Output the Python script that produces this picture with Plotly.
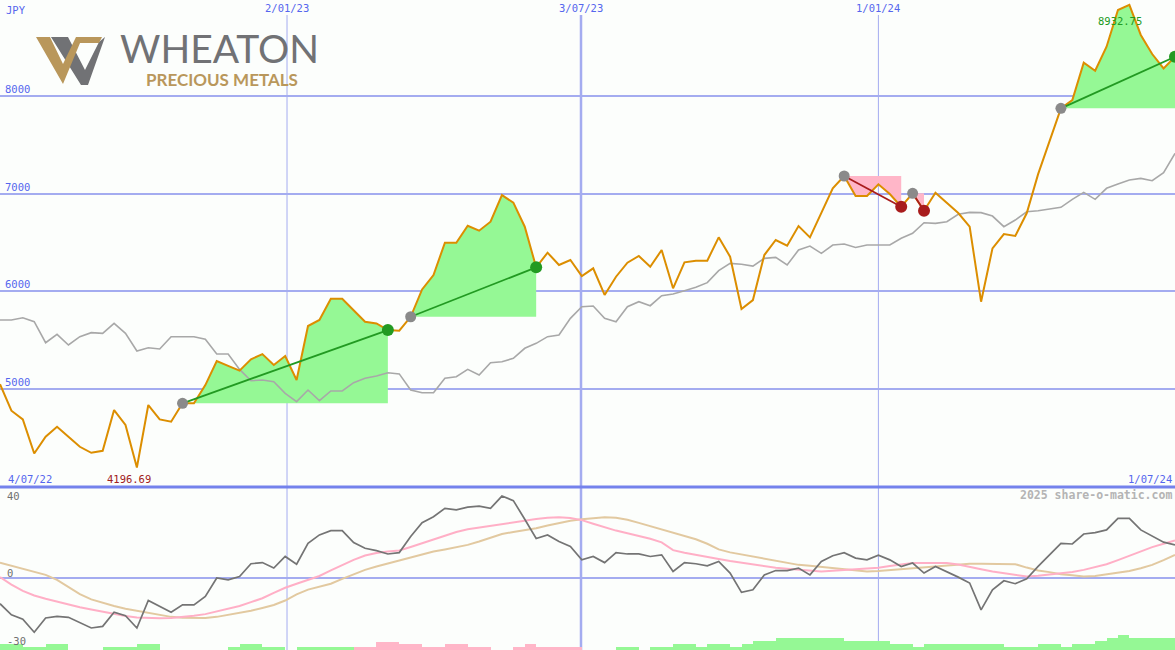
import plotly.graph_objects as go

# ---------------- data ----------------
WEEK = list(range(104))

PRICE = [5050, 4778, 4689, 4340, 4512, 4614, 4512, 4409, 4347, 4368,
         4785, 4632, 4196.69, 4836, 4689, 4665, 4854, 4854, 5040, 5287,
         5237, 5188, 5304, 5358, 5246, 5338, 5092, 5645, 5707, 5925,
         5925, 5802, 5689, 5672, 5604, 5597, 5740, 6020, 6167, 6498,
         6498, 6672, 6621, 6713, 6986, 6908, 6662, 6246, 6396, 6270,
         6321, 6157, 6236, 5963, 6150, 6293, 6362, 6252, 6423, 6031,
         6297, 6314, 6314, 6553, 6355, 5819, 5911, 6372, 6526, 6468,
         6669, 6553, 6805, 7055, 7181, 6976, 6976, 7096, 6997, 6867,
         7004, 6826, 7010, 6901, 6802, 6662, 5894, 6440, 6587, 6567,
         6799, 7200, 7530, 7874, 7959, 8341, 8259, 8505, 8880, 8932.75,
         8625, 8430, 8283, 8402]

COMPARE = [5707, 5707, 5730, 5689, 5474, 5560, 5451, 5536, 5577, 5570,
           5672, 5570, 5389, 5423, 5410, 5536, 5536, 5536, 5509, 5358,
           5358, 5201, 5085, 5092, 5075, 4956, 4871, 4990, 4881, 4980,
           4980, 5065, 5110, 5133, 5167, 5155, 4990, 4962, 4962, 5110,
           5126, 5201, 5143, 5270, 5280, 5314, 5417, 5468, 5536, 5553,
           5724, 5843, 5850, 5724, 5689, 5843, 5894, 5853, 5955, 5973,
           6007, 6041, 6089, 6212, 6287, 6277, 6259, 6338, 6348, 6270,
           6423, 6464, 6389, 6474, 6485, 6450, 6474, 6474, 6474, 6543,
           6594, 6703, 6696, 6713, 6789, 6809, 6806, 6771, 6662, 6730,
           6815, 6826, 6840, 6860, 6942, 7014, 6942, 7055, 7099, 7140,
           7157, 7133, 7215, 7413]

OSC = [-11.4, -16.3, -18.2, -24, -17.7, -17, -17.4, -19.9, -22.1, -21.4,
       -15.2, -16.7, -22.1, -10, -12.6, -15.2, -11.9, -11.9, -8.2, -0.1,
       -0.9, 0.6, 6.2, 6.7, 4.3, 9.4, 6, 15.2, 18.9, 20.8,
       20.8, 15.5, 13, 12, 10.5, 11.1, 18.2, 24.3, 26.9, 30.6,
       29.9, 31.1, 31.6, 30.6, 36, 34, 25.8, 17.3, 18.9, 16,
       13.8, 7.9, 9.4, 6.7, 11.1, 10.5, 10.5, 9.4, 10.1, 2.8,
       6.7, 6.2, 5.3, 7.2, 2.1, -6.4, -5.3, 1.3, 3.2, 3.2,
       4.3, 1.3, 7.2, 9.7, 11.1, 8.7, 7.9, 10, 7.9, 5,
       6.5, 2.1, 5, 2.8, 0.3, -2.3, -14.1, -5.3, -1.3, -2.6,
       -0.4, 5, 10.1, 15.2, 14.9, 19.3, 19.9, 21.1, 26.2, 26.2,
       21.1, 18.5, 15.7, 14.5]

OSC_FAST = [0.3, -3, -5.8, -7.8, -9.2, -10.5, -11.8, -13, -14, -15,
            -16, -16.8, -17.5, -17.8, -17.8, -17.7, -17.3, -16.7, -16, -14.9,
            -13.8, -12.4, -10.7, -9, -6.6, -4.4, -2.6, -1, 0.8, 3.3,
            5.6, 7.9, 9.8, 10.9, 11.6, 12, 13.6, 15.3, 17, 18.6,
            20.2, 21.4, 22.2, 23, 23.8, 24.5, 25.3, 25.9, 26.4, 26.7,
            26.3, 25.4, 23.8, 22.2, 20.8, 19.6, 18.5, 17.2, 15.6, 12.2,
            11, 10, 9.2, 8.3, 7.4, 6.6, 5.8, 4.9, 4.4, 4,
            3.6, 3.1, 2.8, 3.1, 3.4, 3.7, 4, 4.4, 5.2, 6,
            6.5, 6.5, 6.5, 6.5, 5.9, 5, 3.8, 2.8, 2, 1.2,
            0.6, 0.9, 1.4, 1.8, 2.6, 3.5, 4.7, 6, 7.8, 9.8,
            11.6, 13.5, 15, 16.4]

OSC_SLOW = [6.7, 5.4, 4, 2.8, 1.3, -0.9, -4, -7.2, -9.5, -11,
            -12.4, -13.6, -14.5, -15.4, -16.4, -17.2, -17.6, -17.7, -17.7, -17.2,
            -16.3, -15.5, -14.5, -13.3, -12, -10, -7.3, -5.2, -4, -2.6,
            -0.5, 1.5, 3.5, 5, 6.3, 7.8, 9, 10.3, 11.6, 12.5,
            13.5, 14.5, 16, 17.7, 19.3, 20.2, 21, 21.8, 23, 24.2,
            25.1, 25.8, 26.4, 26.7, 26.4, 25.6, 24.2, 22.8, 21.3, 19.8,
            18.4, 17, 15, 12.5, 11.2, 10.3, 9.4, 8.5, 7.6, 6.8,
            5.7, 5.3, 4.8, 4.3, 3.8, 3.3, 2.8, 3, 3.4, 3.8,
            4.1, 4.4, 4.7, 5.2, 5.7, 6.2, 6.2, 6.1, 6, 6,
            4.5, 3.2, 2.5, 1.6, 1.1, 0.6, 0.8, 1.5, 2.1, 3,
            4.2, 5.7, 7.8, 10.1]

HIST = [2.5, 2.5, 1.5, 1.5, 2.6, 2.6, 0, 0, 0, 1.5,
        1.5, 1.5, 2.5, 2.5, 0, 0, 0, 0, 0, 0,
        1.5, 2.6, 2.6, 1.5, 1.5, 0, 1.5, 1.5, 1.5, 1.5,
        1.5, -1.5, -1.5, -3.6, -3.6, -2.5, -2.5, -1.5, -1.5, -2.5,
        -2.5, -1.5, -1.5, 0, 0, -1.5, -2.5, -1.5, -1.5, -1.5,
        -1.5, 0, 0, 0, 1.5, 1.5, 0, 1.5, 1.5, 2.6,
        2.6, 1.5, 2.6, 2.6, 1.5, 2.6, 4, 4, 5.4, 5.4,
        5.4, 5.4, 5.4, 5.4, 4, 4, 4, 4, 2.6, 2.6,
        1.5, 2.6, 2.6, 2.6, 2.6, 2.6, 2.6, 2.6, 1.5, 1.5,
        1.5, 2.6, 2.6, 1.5, 2.6, 2.6, 4, 5.4, 6.6, 5.4,
        5.4, 5.4, 5.4, 5.4]

SIG_START = [16, 36, 74, 80, 93]
SIG_END = [34, 47, 79, 81, 103]
SIG_UP = [True, True, False, False, True]

PRICE_TICKS = [5000, 6000, 7000, 8000]
LOWER_TICKS = [40, 0, -30]
DATE_TICK_POS = [25.16, 50.93, 77.0]
DATE_TICK_TEXT = ["2/01/23", "3/07/23", "1/01/24"]
START_LABEL, END_LABEL = "4/07/22", "1/07/24"
CURRENCY = "JPY"
WATERMARK = "2025 share-o-matic.com"

# ---------------- style ----------------
W, H = 1175, 650
BG = "#fcfefc"
GRID = "#a4acf0"
SEP = "#7482ec"
BLUE_TXT = "#5566ee"
ORANGE = "#dc8e00"
GRAY_LINE = "#a8a8a8"
GREEN_FILL = "#95f895"
PINK_FILL = "#ffb6c8"
GREEN = "#229a22"
RED = "#a81c1c"
MONO = "DejaVu Sans Mono"
MAIN_RANGE = [3997, 8983]
LOW_RANGE = [-31.8, 40]
HIST_BASE = LOW_RANGE[0]
SPLIT = 163 / 650  # lower panel height fraction
VLINE_WIDTH = [1, 2.5, 1]


def py(pix):
    return 1 - pix / H


def px(pix):
    return pix / W


fig = go.Figure()

# signal fills
for s, e, up in zip(SIG_START, SIG_END, SIG_UP):
    xs = [s] + WEEK[s:e + 1] + [e]
    ys = [PRICE[s]] + PRICE[s:e + 1] + [PRICE[s]]
    fig.add_trace(go.Scatter(x=xs, y=ys, mode="lines", fill="toself",
                             fillcolor=GREEN_FILL if up else PINK_FILL,
                             line=dict(width=0), hoverinfo="skip"))

# comparison line
fig.add_trace(go.Scatter(x=WEEK, y=COMPARE, mode="lines",
                         line=dict(color=GRAY_LINE, width=1.6), hoverinfo="skip"))
# price line
fig.add_trace(go.Scatter(x=WEEK, y=PRICE, mode="lines",
                         line=dict(color=ORANGE, width=2), hoverinfo="skip"))

# trend lines & markers
for s, e, up in zip(SIG_START, SIG_END, SIG_UP):
    c = GREEN if up else RED
    fig.add_trace(go.Scatter(x=[WEEK[s], WEEK[e]], y=[PRICE[s], PRICE[e]], mode="lines",
                             line=dict(color=c, width=1.8), hoverinfo="skip"))
    fig.add_trace(go.Scatter(x=[WEEK[s]], y=[PRICE[s]], mode="markers",
                             marker=dict(color="#8a8a8a", size=11), hoverinfo="skip"))
    fig.add_trace(go.Scatter(x=[WEEK[e]], y=[PRICE[e]], mode="markers",
                             marker=dict(color=c, size=12), hoverinfo="skip"))

# lower panel
fig.add_trace(go.Bar(x=WEEK, y=[abs(v) for v in HIST], base=HIST_BASE, offset=0, width=1,
                     marker=dict(color=[GREEN_FILL if v >= 0 else PINK_FILL for v in HIST],
                                 line=dict(width=0)),
                     yaxis="y2", hoverinfo="skip"))
fig.add_trace(go.Scatter(x=WEEK, y=OSC_SLOW, mode="lines", yaxis="y2",
                         line=dict(color="#e2c9a0", width=2), hoverinfo="skip"))
fig.add_trace(go.Scatter(x=WEEK, y=OSC_FAST, mode="lines", yaxis="y2",
                         line=dict(color="#ffafc6", width=2), hoverinfo="skip"))
fig.add_trace(go.Scatter(x=WEEK, y=OSC, mode="lines", yaxis="y2",
                         line=dict(color="#747474", width=1.7), hoverinfo="skip"))

shapes = []
for pos, wd in zip(DATE_TICK_POS, VLINE_WIDTH):
    shapes.append(dict(type="line", xref="x", yref="paper", x0=pos, x1=pos,
                       y0=0, y1=py(15), line=dict(color=GRID, width=wd), layer="below"))
shapes.append(dict(type="line", xref="paper", yref="paper", x0=0, x1=1, y0=SPLIT, y1=SPLIT,
                   line=dict(color=SEP, width=3)))


def path(pts):
    return "M " + " L ".join(f"{px(a):.5f},{py(b):.5f}" for a, b in pts) + " Z"


LOGO_GRAY = "#717275"
LOGO_GOLD = "#b9975b"
shapes.append(dict(type="path", xref="paper", yref="paper", line=dict(width=0),
                   fillcolor=LOGO_GRAY,
                   path=path([(51, 37), (68, 37), (85, 70), (99, 42), (105, 37), (88, 85), (81, 85)])))
shapes.append(dict(type="path", xref="paper", yref="paper", line=dict(width=0),
                   fillcolor=LOGO_GOLD,
                   path=path([(36, 37), (50, 37), (63, 64), (76, 37), (102, 37), (99, 43),
                              (80, 43), (63, 84)])))

ann = []
ann.append(dict(text=CURRENCY, x=px(4), y=py(10), xref="paper", yref="paper",
                xanchor="left", yanchor="middle", showarrow=False,
                font=dict(family=MONO, size=10.5, color=BLUE_TXT)))
for pos, t in zip(DATE_TICK_POS, DATE_TICK_TEXT):
    ann.append(dict(text=t, x=pos, y=py(8), xref="x", yref="paper", xanchor="center",
                    yanchor="middle", showarrow=False,
                    font=dict(family=MONO, size=10.5, color=BLUE_TXT)))
for v in PRICE_TICKS:
    ann.append(dict(text=str(v), x=px(3), y=v, xref="paper", yref="y", xanchor="left",
                    yanchor="bottom", showarrow=False, yshift=-1,
                    font=dict(family=MONO, size=10.5, color=BLUE_TXT)))
ann.append(dict(text=START_LABEL, x=px(6), y=py(479), xref="paper", yref="paper",
                xanchor="left", yanchor="middle", showarrow=False,
                font=dict(family=MONO, size=10.5, color=BLUE_TXT)))
ann.append(dict(text=END_LABEL, x=px(1174), y=py(479), xref="paper", yref="paper",
                xanchor="right", yanchor="middle", showarrow=False,
                font=dict(family=MONO, size=10.5, color=BLUE_TXT)))
i_lo = PRICE.index(min(PRICE))
i_hi = PRICE.index(max(PRICE))
ann.append(dict(text=f"{PRICE[i_lo]:.2f}", x=WEEK[i_lo], y=py(479), xref="x", yref="paper",
                xanchor="center", yanchor="middle", showarrow=False, xshift=-8,
                font=dict(family=MONO, size=10.5, color="#a02020")))
ann.append(dict(text=f"{PRICE[i_hi]:.2f}", x=WEEK[i_hi], y=py(21), xref="x", yref="paper",
                xanchor="center", yanchor="middle", showarrow=False, xshift=-9,
                font=dict(family=MONO, size=10.5, color=GREEN)))
ann.append(dict(text=f"<b>{WATERMARK}</b>", x=px(1174), y=py(495), xref="paper", yref="paper",
                xanchor="right", yanchor="middle", showarrow=False,
                font=dict(family=MONO, size=11.5, color="#b4b4b4")))
for v, ypix in zip(LOWER_TICKS, [496, 573, 641]):
    ann.append(dict(text=str(v), x=px(5), y=py(ypix), xref="paper", yref="paper",
                    xanchor="left", yanchor="middle", showarrow=False,
                    font=dict(family=MONO, size=10.5, color="#707070")))
ann.append(dict(text="WHEATON", x=px(118), y=py(48), xref="paper", yref="paper",
                xanchor="left", yanchor="middle", showarrow=False,
                font=dict(family="Lato", size=39, color=LOGO_GRAY)))
ann.append(dict(text="<b>PRECIOUS METALS</b>", x=px(144), y=py(79), xref="paper", yref="paper",
                xanchor="left", yanchor="middle", showarrow=False,
                font=dict(family="Lato", size=17, color=LOGO_GOLD)))

fig.update_layout(
    width=W, height=H, margin=dict(l=0, r=0, t=0, b=0),
    paper_bgcolor=BG, plot_bgcolor=BG, showlegend=False, hovermode=False,
    bargap=0,
    xaxis=dict(range=[0, 103], domain=[0, 1], showgrid=False, zeroline=False,
               showticklabels=False, ticks="", anchor="y"),
    yaxis=dict(range=MAIN_RANGE, domain=[SPLIT, 1], tickvals=PRICE_TICKS,
               showticklabels=False, gridcolor=GRID, gridwidth=2, zeroline=False),
    yaxis2=dict(range=LOW_RANGE, domain=[0, SPLIT], tickvals=[0], anchor="x",
                showticklabels=False, gridcolor=GRID, gridwidth=2, zeroline=False),
    shapes=shapes, annotations=ann,
)

fig.write_html("out.html", config={"displayModeBar": False},
               post_script="document.body.style.margin='0';document.body.style.overflow='hidden';")
